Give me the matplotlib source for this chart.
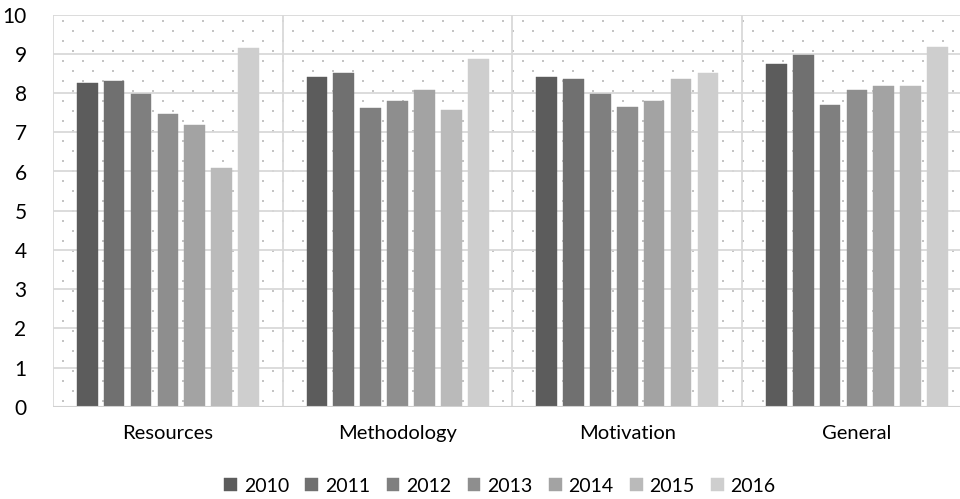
import numpy as np
import matplotlib
matplotlib.use("Agg")
import matplotlib.pyplot as plt

plt.rcParams['font.family'] = ['Lato', 'DejaVu Sans']

categories = ["Resources", "Methodology", "Motivation", "General"]
years = ["2010", "2011", "2012", "2013", "2014", "2015", "2016"]
values = {
    "2010": [8.27, 8.40, 8.41, 8.75],
    "2011": [8.32, 8.50, 8.36, 8.98],
    "2012": [7.98, 7.61, 7.98, 7.70],
    "2013": [7.47, 7.80, 7.65, 8.08],
    "2014": [7.18, 8.08, 7.80, 8.18],
    "2015": [6.09, 7.56, 8.36, 8.18],
    "2016": [9.16, 8.88, 8.50, 9.17],
}
colors = ["#5c5c5c", "#707070", "#7f7f7f", "#8e8e8e", "#a3a3a3", "#bababa", "#cecece"]

W, H = 960, 499
fig = plt.figure(figsize=(W / 100, H / 100), dpi=100)
ax_left, ax_bottom = 53 / W, 92.3 / H
ax_w, ax_h = 918.8 / W, 392 / H
ax = fig.add_axes([ax_left, ax_bottom, ax_w, ax_h])

# dotted background fill (staggered dot pattern)
dx = 20 / 918.8
dy = 10 / 392
pts_x, pts_y = [], []
for r, yy in enumerate(np.arange(dy * 0.6, 1.0, dy)):
    off = 0.0 if r % 2 == 0 else dx / 2
    xs = np.arange(dx * 0.5 + off, 1.0, dx)
    pts_x.extend(xs)
    pts_y.extend([yy] * len(xs))
ax.scatter(pts_x, pts_y, s=1.3, c="#c4c4c4", marker="s", linewidths=0,
           transform=ax.transAxes, zorder=0, clip_on=True)

n = len(years)
x = np.arange(len(categories))
step = 0.117
bar_w = 0.09
for i, (yr, col) in enumerate(zip(years, colors)):
    pos = x + (i - (n - 1) / 2) * step
    ax.bar(pos, values[yr], width=bar_w, color=col, label=yr, zorder=3,
           edgecolor=col, linewidth=0.3)

ax.set_xlim(-0.5, len(categories) - 0.5)
ax.set_ylim(0, 10)
ax.set_yticks(np.arange(0, 11, 1))
ax.set_xticks(x)
ax.set_xticklabels(categories)

grid_col = "#d9d9d9"
for yv in range(1, 11):
    ax.axhline(yv, color=grid_col, lw=1.3, zorder=1)
for xv in np.arange(-0.5, len(categories), 1.0):
    ax.axvline(xv, color=grid_col, lw=1.3, zorder=1)

for s in ax.spines.values():
    s.set_visible(False)
ax.axhline(0, color="#d0d0d0", lw=1.5, zorder=4)

ax.tick_params(axis="y", length=0, labelsize=15, colors="#000000", pad=19)
ax.tick_params(axis="x", length=0, labelsize=14.5, colors="#000000", pad=13)

leg = fig.legend(loc="center", bbox_to_anchor=(500 / W, 1 - 486 / H), ncol=7,
                 frameon=False, fontsize=14, handlelength=0.65, handleheight=0.65,
                 handletextpad=0.35, columnspacing=0.85)

fig.savefig("out.png", dpi=100)
